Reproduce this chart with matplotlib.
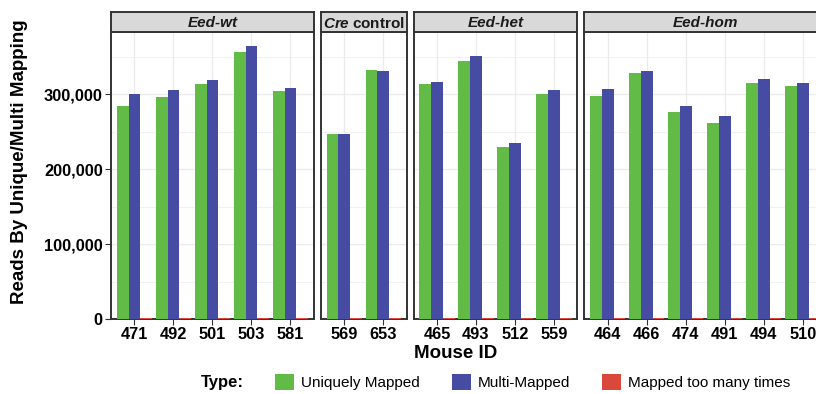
import matplotlib
matplotlib.use("Agg")
import matplotlib.pyplot as plt
from matplotlib.patches import Patch
from matplotlib.ticker import FuncFormatter, MultipleLocator
import numpy as np

plt.rcParams['font.family'] = ['Liberation Sans', 'DejaVu Sans']
plt.rcParams['mathtext.fontset'] = 'custom'
plt.rcParams['mathtext.it'] = 'Liberation Sans:italic:bold'
plt.rcParams['mathtext.rm'] = 'Liberation Sans:bold'

# ---- data -------------------------------------------------------------
genotypes = ["Eed-wt", "Cre control", "Eed-het", "Eed-hom"]
strip_labels = ["Eed-wt", r"$Cre\;$control", "Eed-het", "Eed-hom"]
strip_italic = [True, False, True, True]

mouse_id = ["471", "492", "501", "503", "581",
            "569", "653",
            "465", "493", "512", "559",
            "464", "466", "474", "491", "494", "510"]
genotype = ["Eed-wt"] * 5 + ["Cre control"] * 2 + ["Eed-het"] * 4 + ["Eed-hom"] * 6

uniquely_mapped = [284000, 296400, 313800, 356400, 304400,
                   246700, 332400,
                   313300, 344900, 230200, 300400,
                   298200, 328900, 276900, 262200, 315600, 311100]
multi_mapped = [300000, 305800, 318700, 364900, 308000,
                247600, 331000,
                316900, 351100, 234700, 305300,
                306700, 330700, 284900, 271500, 320900, 315600]
mapped_too_many = [1400, 1200, 1100, 1500, 1000,
                   1000, 1200,
                   1100, 1300, 900, 1000,
                   1100, 1200, 1000, 900, 1200, 1100]

types = ["Uniquely Mapped", "Multi-Mapped", "Mapped too many times"]
colors = ["#63BB47", "#474CA3", "#D9483B"]

# ---- layout (pixels) --------------------------------------------------
W, H = 816, 394
fig = plt.figure(figsize=(W / 100, H / 100), dpi=100)

unit = 39.0        # width of one category slot
gap = 7.0          # spacing between facets
left0 = 111.0
panel_top, panel_bot = 32.0, 319.0
strip_top = 12.0

def fx(px):
    return px / W

def fy(py):
    return (H - py) / H

ymax = max(max(uniquely_mapped), max(multi_mapped)) * 1.05
bar_w = 0.3
dark = "#333333"
grid_c = "#EBEBEB"

series = [uniquely_mapped, multi_mapped, mapped_too_many]

left = left0
for gi, g in enumerate(genotypes):
    idx = [i for i, gg in enumerate(genotype) if gg == g]
    n = len(idx)
    width_px = (n + 0.2) * unit
    ax = fig.add_axes([fx(left), fy(panel_bot), width_px / W,
                       (panel_bot - panel_top) / H])
    x = np.arange(n)
    for k, (vals, c) in enumerate(zip(series, colors)):
        ax.bar(x + (k - 1) * bar_w, [vals[i] for i in idx], bar_w,
               color=c, linewidth=0, zorder=3)
    ax.set_xlim(-0.6, n - 0.4)
    ax.set_ylim(0, ymax)
    ax.set_xticks(x)
    ax.set_xticklabels([mouse_id[i] for i in idx], fontweight='bold',
                       fontsize=11.8, color='black')
    ax.yaxis.set_major_locator(MultipleLocator(100000))
    ax.yaxis.set_minor_locator(MultipleLocator(50000))
    ax.grid(True, which='major', color=grid_c, linewidth=0.9, zorder=0)
    ax.grid(True, which='minor', axis='y', color=grid_c, linewidth=0.5, zorder=0)
    ax.set_axisbelow(True)
    ax.tick_params(axis='both', which='major', length=4, width=0.8,
                   color=dark, pad=2)
    ax.tick_params(axis='y', which='minor', length=0)
    if gi == 0:
        ax.yaxis.set_major_formatter(FuncFormatter(lambda v, p: f"{v:,.0f}"))
        for lab in ax.get_yticklabels():
            lab.set_fontweight('bold')
            lab.set_fontsize(11.8)
            lab.set_color('black')
    else:
        ax.tick_params(axis='y', which='both', length=0, labelleft=False)
    for s in ax.spines.values():
        s.set_color(dark)
        s.set_linewidth(1.4)

    # facet strip
    sax = fig.add_axes([fx(left), fy(panel_top), width_px / W,
                        (panel_top - strip_top) / H])
    sax.set_facecolor("#D9D9D9")
    sax.set_xticks([])
    sax.set_yticks([])
    for s in sax.spines.values():
        s.set_color(dark)
        s.set_linewidth(1.4)
    sax.text(0.5, 0.45, strip_labels[gi], transform=sax.transAxes,
             ha='center', va='center', fontsize=11, fontweight='bold',
             fontstyle='italic' if strip_italic[gi] else 'normal',
             color='#1A1A1A')

    left += width_px + gap

# axis titles
fig.text(fx(20), fy(162), "Reads By Unique/Multi Mapping", rotation=90,
         ha='center', va='center', fontsize=13.5, fontweight='bold')
fig.text(fx(456), fy(354), "Mouse ID", ha='center', va='center',
         fontsize=13.5, fontweight='bold')

# legend
fig.text(fx(201), fy(382), "Type:", ha='left', va='center',
         fontsize=12, fontweight='bold')
handles = [Patch(facecolor=c, edgecolor='none', label=t)
           for t, c in zip(types, colors)]
fig.legend(handles=handles, loc='center left',
           bbox_to_anchor=(fx(275), fy(382)), ncol=3, frameon=False,
           fontsize=11, handlelength=1.25, handleheight=1.25,
           handletextpad=0.45, columnspacing=2.1, borderpad=0,
           borderaxespad=0)

fig.savefig("out.png", dpi=100)
